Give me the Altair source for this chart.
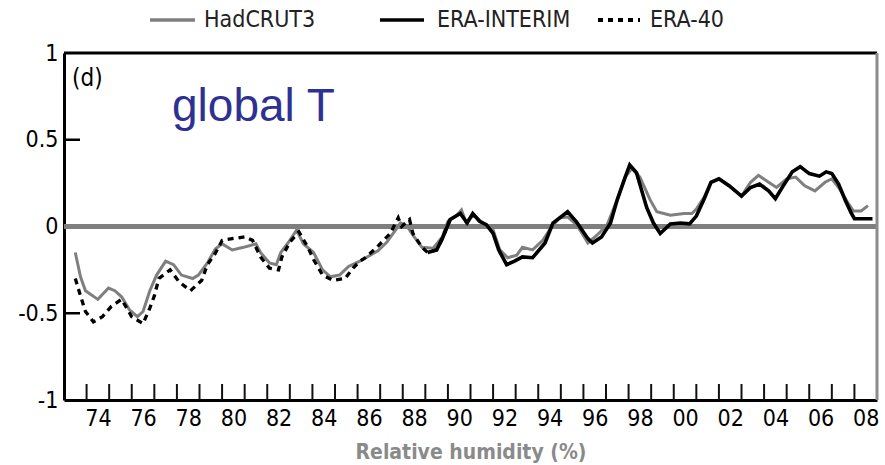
import altair as alt
import pandas as pd

# ---------------- data ----------------
series_names = ["HadCRUT3", "ERA-INTERIM", "ERA-40"]

had_years = [1973.5, 1973.73, 1973.95, 1974.5, 1974.97, 1975.25, 1975.55, 1975.9, 1976.25, 1976.5,
             1976.8, 1977.1, 1977.5, 1977.85, 1978.2, 1978.7, 1978.95, 1979.35, 1979.7, 1980.0,
             1980.45, 1980.95, 1981.5, 1981.7, 1982.1, 1982.4, 1982.6, 1983.0, 1983.3, 1983.6,
             1984.05, 1984.45, 1984.8, 1985.2, 1985.6, 1986.1, 1986.5, 1986.9, 1987.3, 1987.9,
             1988.2, 1988.45, 1988.85, 1989.35, 1989.75, 1990.0, 1990.4, 1990.6, 1990.8, 1991.15,
             1991.55, 1992.0, 1992.3, 1992.65, 1993.05, 1993.3, 1993.75, 1994.2, 1994.6, 1994.95,
             1995.3, 1995.7, 1996.2, 1996.6, 1997.05, 1997.5, 1997.85, 1998.15, 1998.5, 1998.95,
             1999.25, 1999.85, 2000.45, 2000.8, 2001.0, 2001.35, 2001.65, 2002.0, 2002.45, 2003.0,
             2003.4, 2003.75, 2004.2, 2004.55, 2005.0, 2005.4, 2005.8, 2006.25, 2006.7, 2007.0,
             2007.3, 2007.7, 2007.95, 2008.3, 2008.6]
had_vals = [-0.15, -0.29, -0.37, -0.42, -0.355, -0.37, -0.405, -0.48, -0.52, -0.49,
            -0.37, -0.28, -0.2, -0.22, -0.28, -0.3, -0.28, -0.21, -0.13, -0.1,
            -0.135, -0.12, -0.1, -0.15, -0.21, -0.22, -0.15, -0.08, -0.02, -0.1,
            -0.15, -0.25, -0.29, -0.28, -0.23, -0.2, -0.17, -0.14, -0.09, 0.02,
            0.0, -0.05, -0.12, -0.125, -0.06, 0.03, 0.065, 0.095, 0.025, 0.065,
            0.02, -0.02, -0.135, -0.18, -0.165, -0.12, -0.135, -0.08, 0.0, 0.05,
            0.055, 0.01, -0.095, -0.05, 0.01, 0.155, 0.285, 0.335, 0.285, 0.155,
            0.085, 0.065, 0.075, 0.075, 0.1, 0.17, 0.255, 0.275, 0.235, 0.175,
            0.255, 0.295, 0.255, 0.225, 0.275, 0.285, 0.235, 0.205, 0.255, 0.275,
            0.225, 0.14, 0.09, 0.09, 0.12]

era40_years = [1973.5, 1973.73, 1973.95, 1974.3, 1974.7, 1975.1, 1975.55, 1976.0, 1976.5, 1976.8,
               1977.0, 1977.2, 1977.7, 1978.1, 1978.6, 1979.1, 1979.35, 1979.7, 1980.0, 1980.45,
               1981.0, 1981.35, 1981.7, 1982.1, 1982.5, 1982.65, 1983.0, 1983.4, 1983.8, 1984.05,
               1984.45, 1984.9, 1985.45, 1985.8, 1986.1, 1986.35, 1986.85, 1987.45, 1987.8, 1987.95,
               1988.3, 1988.45, 1988.85, 1989.1, 1989.5, 1989.75, 1990.1]
era40_vals = [-0.3, -0.4, -0.49, -0.55, -0.52, -0.46, -0.42, -0.52, -0.56, -0.47,
              -0.4, -0.3, -0.25, -0.32, -0.37, -0.31, -0.22, -0.155, -0.08, -0.07,
              -0.06, -0.08, -0.175, -0.24, -0.25, -0.175, -0.09, -0.03, -0.12, -0.19,
              -0.28, -0.31, -0.3, -0.24, -0.2, -0.18, -0.12, -0.04, 0.05, 0.0,
              0.04, -0.04, -0.12, -0.15, -0.135, -0.07, 0.04]

erai_years = [1989.1, 1989.5, 1989.75, 1990.1, 1990.55, 1990.85, 1991.1, 1991.4, 1991.7, 1992.0,
              1992.25, 1992.6, 1992.95, 1993.3, 1993.75, 1994.3, 1994.65, 1995.3, 1995.7, 1996.2,
              1996.4, 1996.8, 1997.2, 1997.5, 1997.85, 1998.05, 1998.35, 1998.8, 1999.1, 1999.4,
              1999.85, 2000.3, 2000.7, 2001.0, 2001.35, 2001.65, 2002.0, 2002.45, 2003.0, 2003.4,
              2003.8, 2004.2, 2004.5, 2004.8, 2005.25, 2005.6, 2006.0, 2006.45, 2006.75, 2007.0,
              2007.3, 2007.6, 2007.85, 2008.0, 2008.3, 2008.8]
erai_vals = [-0.15, -0.135, -0.07, 0.04, 0.075, 0.02, 0.075, 0.03, 0.01, -0.04,
             -0.135, -0.22, -0.2, -0.175, -0.18, -0.095, 0.02, 0.085, 0.025, -0.07,
             -0.095, -0.06, 0.02, 0.155, 0.285, 0.355, 0.31, 0.11, 0.02, -0.04,
             0.015, 0.02, 0.015, 0.06, 0.16, 0.255, 0.275, 0.235, 0.175, 0.225,
             0.245, 0.205, 0.16, 0.225, 0.315, 0.345, 0.305, 0.29, 0.315, 0.305,
             0.245, 0.15, 0.08, 0.045, 0.045, 0.045]

x_tick_years = list(range(1974, 2009))          # small inward ticks (year boundaries)
x_label_years = list(range(1974, 2009, 2))      # labelled years (centred mid-year)
y_tick_values = [-1, -0.5, 0, 0.5, 1]
y_inner_ticks = [0.5, -0.5]

# ---------------- layout / style ----------------
W, H = 813, 347
FONT = "DejaVu Sans Condensed"
GRAY = "#7f7f7f"

xscale = alt.Scale(domain=[1973, 2009], nice=False, zero=False)
yscale = alt.Scale(domain=[-1, 1], nice=False, zero=False)

xaxis = alt.Axis(values=[y + 0.5 for y in x_label_years],
                 labelExpr="substring(format(floor(datum.value), 'd'), 2, 4)",
                 tickSize=0, grid=False, domainColor="black", domainWidth=3,
                 labelFont=FONT, labelFontSize=23, labelColor="black", labelPadding=7,
                 labelFlush=False, labelOverlap=False,
                 titleFont=FONT, titleFontSize=21, titleFontWeight="bold", titleColor="#8a8a8a",
                 titlePadding=11)
yaxis = alt.Axis(values=y_tick_values,
                 labelExpr="datum.value == 0 ? '0' : (datum.value < 0 ? '-' : '') + format(abs(datum.value), '~g')",
                 tickSize=0, grid=False, domainColor="black", domainWidth=3,
                 labelFont=FONT, labelFontSize=23, labelColor="black", labelPadding=6,
                 labelOverlap=False)

X = alt.X("year:Q", scale=xscale, axis=xaxis, title="Relative humidity (%)")
Y = alt.Y("value:Q", scale=yscale, axis=yaxis, title=None)

had_df = pd.DataFrame({"year": had_years, "value": had_vals})
e40_df = pd.DataFrame({"year": era40_years, "value": era40_vals})
eri_df = pd.DataFrame({"year": erai_years, "value": erai_vals})
one = pd.DataFrame({"a": [0]})

zero_line = alt.Chart(pd.DataFrame({"value": [0]})).mark_rule(
    color=GRAY, strokeWidth=5).encode(y=Y)

had_line = alt.Chart(had_df).mark_line(color=GRAY, strokeWidth=3).encode(x=X, y=Y)
e40_line = alt.Chart(e40_df).mark_line(color="black", strokeWidth=3.3,
                                       strokeDash=[6, 5]).encode(x=X, y=Y)
eri_line = alt.Chart(eri_df).mark_line(color="black", strokeWidth=3.6).encode(x=X, y=Y)

xticks = alt.Chart(pd.DataFrame({"year": x_tick_years})).mark_rule(
    color="#111", strokeWidth=2).encode(x=X, y=alt.value(H), y2=alt.value(H - 16))
yticks = alt.Chart(pd.DataFrame({"value": y_inner_ticks})).mark_rule(
    color="black", strokeWidth=2.5).encode(y=Y, x=alt.value(0), x2=alt.value(16))

top_border = alt.Chart(one).mark_rule(color="black", strokeWidth=3).encode(
    x=alt.value(0), x2=alt.value(W), y=alt.value(0))
right_border = alt.Chart(one).mark_rule(color="#8c8c8c", strokeWidth=3).encode(
    x=alt.value(W), y=alt.value(0), y2=alt.value(H))

panel_label = alt.Chart(one).mark_text(
    text="(d)", font=FONT, fontSize=24, color="black", align="left", baseline="middle"
).encode(x=alt.value(8), y=alt.value(26))
global_t = alt.Chart(one).mark_text(
    text="global T", font="Liberation Sans", fontSize=46, color="#2e3192",
    align="left", baseline="alphabetic"
).encode(x=alt.value(108), y=alt.value(68))

# manual legend above the plot
LY = -33
leg_had = alt.Chart(one).mark_rule(color=GRAY, strokeWidth=3.5).encode(
    x=alt.value(86), x2=alt.value(131), y=alt.value(LY))
leg_eri = alt.Chart(one).mark_rule(color="black", strokeWidth=3.5).encode(
    x=alt.value(316), x2=alt.value(360), y=alt.value(LY))
leg_e40 = alt.Chart(one).mark_rule(color="black", strokeWidth=4, strokeDash=[5, 5]).encode(
    x=alt.value(534), x2=alt.value(576), y=alt.value(LY))
leg_texts = []
for name, xpos in zip(series_names, [140, 373, 586]):
    leg_texts.append(alt.Chart(one).mark_text(
        text=name, font=FONT, fontSize=23, color="#222", align="left", baseline="middle"
    ).encode(x=alt.value(xpos), y=alt.value(LY)))

chart = alt.layer(
    zero_line, had_line, e40_line, eri_line, xticks, yticks, top_border, right_border,
    panel_label, global_t, leg_had, leg_eri, leg_e40, *leg_texts
).properties(
    width=W, height=H,
    autosize=alt.AutoSizeParams(type="none"),
    padding={"left": 64, "top": 53, "right": 8, "bottom": 65},
    background="white",
).configure_view(stroke=None)

chart.save("out.html", embed_options={"renderer": "svg", "actions": False})
